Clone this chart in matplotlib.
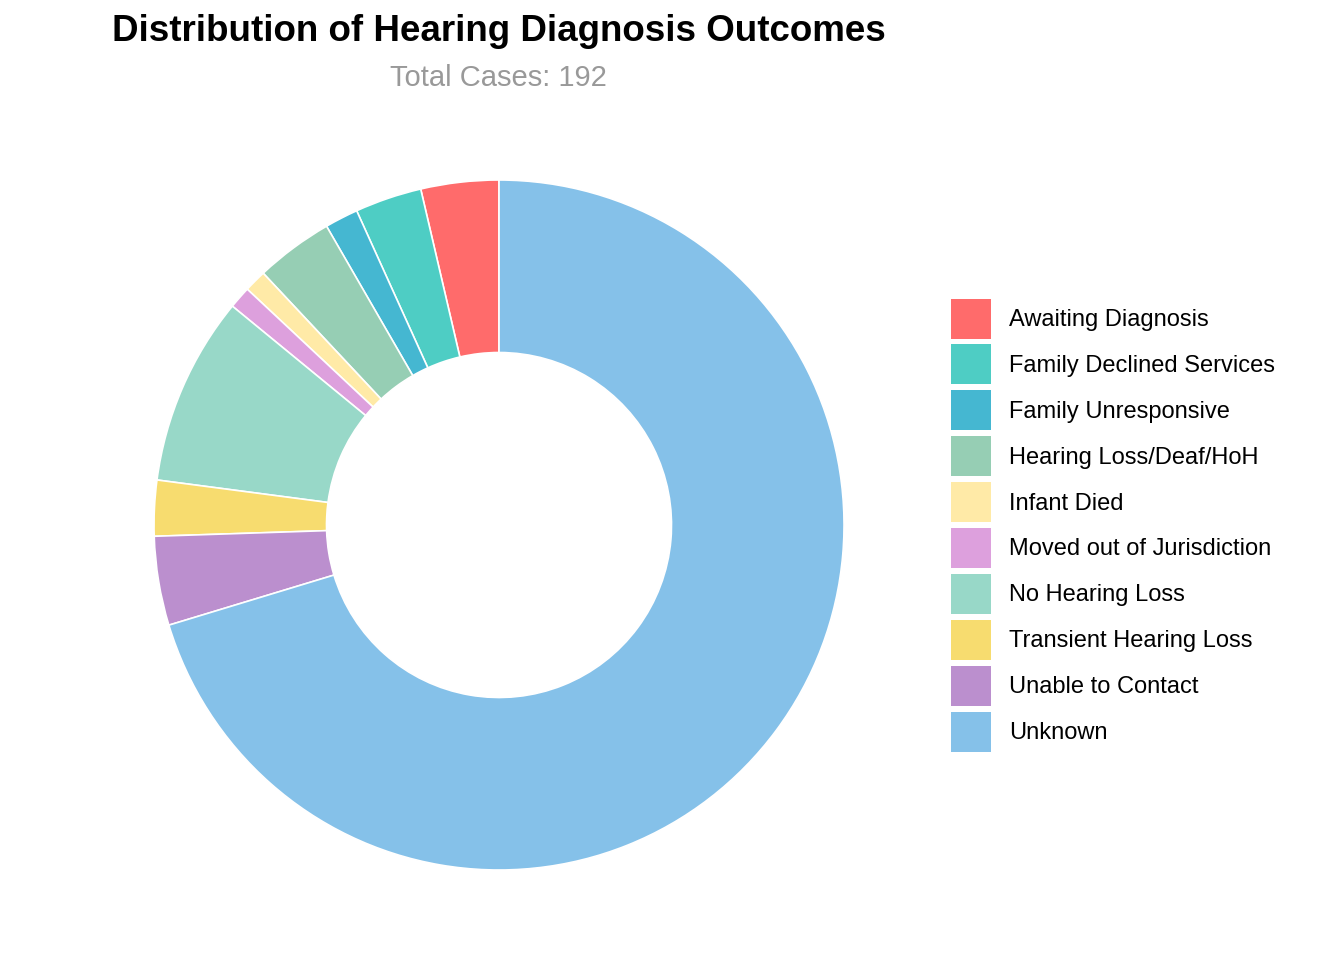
import matplotlib as mpl
mpl.use('Agg')
import matplotlib.pyplot as plt
from matplotlib.patches import Patch

plt.rcParams['font.family'] = ['Liberation Sans', 'DejaVu Sans']

# hearing diagnosis outcomes, counts
categories = ['Awaiting Diagnosis', 'Family Declined Services', 'Family Unresponsive',
              'Hearing Loss/Deaf/HoH', 'Infant Died', 'Moved out of Jurisdiction',
              'No Hearing Loss', 'Transient Hearing Loss', 'Unable to Contact', 'Unknown']
counts = [7, 6, 3, 7, 2, 2, 17, 5, 8, 135]
colors = ['#FF6B6B', '#4ECDC4', '#45B7D1', '#96CEB4', '#FFEAA7',
          '#DDA0DD', '#98D8C8', '#F7DC6F', '#BB8FCE', '#85C1E9']

fig = plt.figure(figsize=(13.44, 9.6), dpi=100)
ax = fig.add_axes([0.1146, 0.09375, 0.5134, 0.71875])
ax.pie(counts, colors=colors, startangle=90, counterclock=True, radius=1,
       wedgeprops=dict(width=0.5, edgecolor='white', linewidth=1.2))
ax.set_xlim(-1, 1)
ax.set_ylim(-1, 1)
ax.set_aspect('equal')
ax.axis('off')

fig.text(0.371, 0.967, 'Distribution of Hearing Diagnosis Outcomes',
         ha='center', va='center', fontsize=26.5, fontweight='bold')
fig.text(0.371, 0.919, 'Total Cases: ' + str(sum(counts)),
         ha='center', va='center', fontsize=21, color='#999999')

handles = [Patch(facecolor=c, edgecolor='none') for c in colors]
fig.legend(handles, categories, loc='center left', bbox_to_anchor=(0.7075, 0.453),
           frameon=False, fontsize=17, handlelength=1.69, handleheight=2.23,
           labelspacing=0.25, handletextpad=0.76, borderaxespad=0, borderpad=0)

fig.savefig('out.png', dpi=100)
